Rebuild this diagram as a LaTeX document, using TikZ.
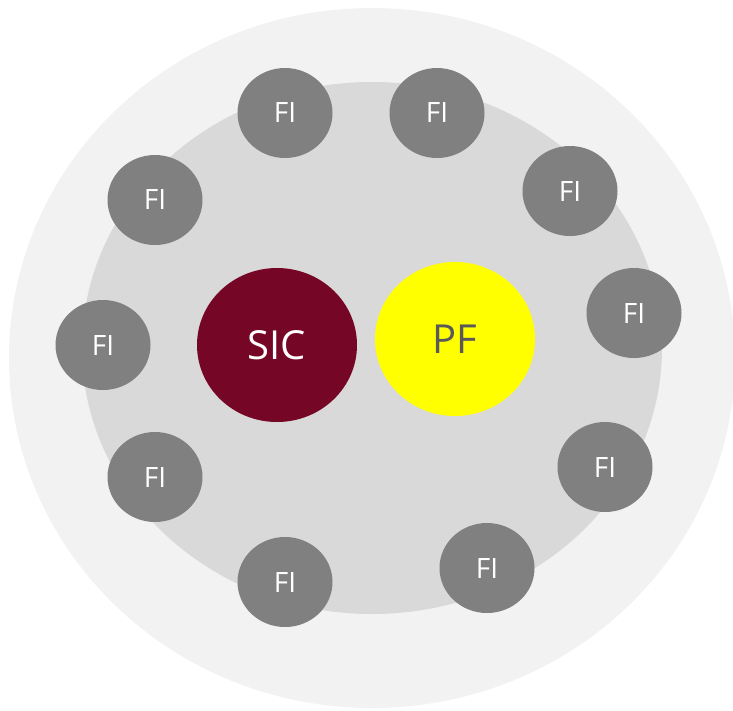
\documentclass[tikz,border=0pt]{standalone}
\usepackage{fontspec}
\setmainfont{Open Sans}
\usetikzlibrary{shapes.geometric}
\definecolor{outerc}{HTML}{F2F2F2}
\definecolor{innerc}{HTML}{D9D9D9}
\definecolor{fic}{HTML}{808080}
\definecolor{sicc}{HTML}{750626}
\definecolor{pfc}{HTML}{FFFF00}
\definecolor{pftext}{HTML}{595959}
\newcommand{\lowtxt}[1]{\raisebox{-3pt}{#1}}
\tikzset{
  fi/.style={ellipse, fill=fic, draw=none, inner sep=0pt, minimum width=95pt, minimum height=90pt, text=white, font=\fontsize{28}{30}\selectfont},
  big/.style={ellipse, draw=none, inner sep=0pt, minimum width=160pt, minimum height=154pt, font=\fontsize{40}{42}\selectfont}
}
\begin{document}
\begin{tikzpicture}[x=1pt,y=-1pt]
\useasboundingbox (0,0) rectangle (733,710);
\clip (0,0) rectangle (733,710);
\fill[outerc] (372,358) ellipse [x radius=363, y radius=350];
\fill[innerc] (372,348) ellipse [x radius=290, y radius=266];
\node[big, fill=sicc, text=white] (sic) at (277,345) {\lowtxt{SIC}};
\node[big, fill=pfc, text=pftext] (pf) at (455,339) {\lowtxt{PF}};
\node[fi] (f1) at (285,113) {\lowtxt{FI}};
\node[fi] (f2) at (437,113) {\lowtxt{FI}};
\node[fi] (f3) at (570,191) {\lowtxt{FI}};
\node[fi] (f4) at (634,313) {\lowtxt{FI}};
\node[fi] (f5) at (605,467) {\lowtxt{FI}};
\node[fi] (f6) at (487,568) {\lowtxt{FI}};
\node[fi] (f7) at (285,582) {\lowtxt{FI}};
\node[fi] (f8) at (155,477) {\lowtxt{FI}};
\node[fi] (f9) at (103,345) {\lowtxt{FI}};
\node[fi] (f10) at (155,200) {\lowtxt{FI}};
\end{tikzpicture}
\end{document}
